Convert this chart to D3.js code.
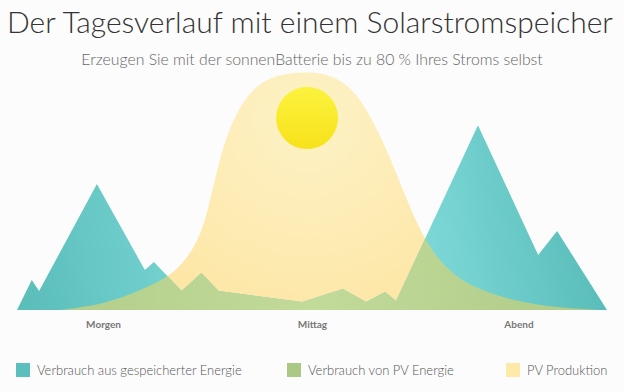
<!DOCTYPE html>
<html>
<head>
<meta charset="utf-8">
<script src="https://cdn.jsdelivr.net/npm/d3@7"></script>
<style>
  body { margin: 0; background: #fcfcfc; }
  svg { display: block; font-family: Lato, "Open Sans", sans-serif; }
</style>
</head>
<body>
<svg id="chart" width="624" height="392"></svg>
<script>
// hours of the day (0..24) and relative power (0..100)
const consumptionHours = [0, 0.6, 0.9, 3.25, 5.2, 5.57, 6.7, 7.5, 8.2, 11.6, 13.26, 14.2, 14.97, 15.42, 18.75, 21.2, 21.97, 24];
const consumptionValues = [0, 12.5, 7.9, 52.5, 16.7, 20, 7.9, 15.4, 7.9, 3.3, 8.75, 3.3, 7.5, 3.75, 77, 22.9, 32.9, 0];

const pvHours = [1.75, 3.38, 4.72, 6.1, 6.83, 7.44, 7.77, 8.18, 8.66, 9.48, 10.5, 11.72, 12.94, 13.95, 14.77, 15.38, 15.91, 16.52, 17.21, 18.02, 18.96, 20.26, 21.68, 23.72];
const pvValues = [0, 2.1, 6.7, 13.3, 20, 30.4, 41.7, 60.4, 77, 92, 98, 99.5, 98, 89, 73, 58.3, 44.6, 30.4, 20, 12.5, 7.9, 3.75, 1.25, 0];

const tickHours = [3.5, 12, 20.4];
const tickLabels = ["Morgen", "Mittag", "Abend"];

const legendLabels = ["Verbrauch aus gespeicherter Energie", "Verbrauch von PV Energie", "PV Produktion"];
const legendColors = ["#5bc0bd", "#abc985", "#fde9a8"];

const sunHour = 11.8;
const sunValue = 80;

const svg = d3.select("#chart");
const width = 624;

const x = d3.scaleLinear().domain([0, 24]).range([17, 607]);
const y = d3.scaleLinear().domain([0, 100]).range([310, 70]);

const consumption = consumptionHours.map((h, i) => ({h: h, v: consumptionValues[i]}));
const pv = pvHours.map((h, i) => ({h: h, v: pvValues[i]}));

// title
svg.append("text")
    .attr("x", width / 2 - 2)
    .attr("y", 33)
    .attr("text-anchor", "middle")
    .style("font-size", "30px")
    .style("font-weight", "300")
    .style("fill", "#333")
    .text("Der Tagesverlauf mit einem Solarstromspeicher");

svg.append("text")
    .attr("x", width / 2)
    .attr("y", 65)
    .attr("text-anchor", "middle")
    .style("font-size", "15.8px")
    .style("font-weight", "300")
    .style("fill", "#666")
    .text("Erzeugen Sie mit der sonnenBatterie bis zu 80 % Ihres Stroms selbst");

const defs = svg.append("defs");

const tealGrad = defs.append("linearGradient")
    .attr("id", "teal-grad")
    .attr("gradientUnits", "userSpaceOnUse")
    .attr("x1", 17).attr("y1", 300).attr("x2", 607).attr("y2", 200);
tealGrad.append("stop").attr("offset", "0%").attr("stop-color", "#59bdba");
tealGrad.append("stop").attr("offset", "25%").attr("stop-color", "#72d0cd");
tealGrad.append("stop").attr("offset", "70%").attr("stop-color", "#7bd7d5");
tealGrad.append("stop").attr("offset", "100%").attr("stop-color", "#55bab6");

const greenGrad = defs.append("linearGradient")
    .attr("id", "green-grad")
    .attr("gradientUnits", "userSpaceOnUse")
    .attr("x1", 17).attr("y1", 0).attr("x2", 607).attr("y2", 0);
greenGrad.append("stop").attr("offset", "0%").attr("stop-color", "#b0cc88");
greenGrad.append("stop").attr("offset", "50%").attr("stop-color", "#c2da9a");
greenGrad.append("stop").attr("offset", "100%").attr("stop-color", "#aecb87");

const pvGrad = defs.append("radialGradient")
    .attr("id", "pv-grad")
    .attr("gradientUnits", "userSpaceOnUse")
    .attr("cx", x(sunHour)).attr("cy", y(sunValue)).attr("r", 220);
pvGrad.append("stop").attr("offset", "0%").attr("stop-color", "#fdf2c6");
pvGrad.append("stop").attr("offset", "100%").attr("stop-color", "#fde6a4");

const sunGrad = defs.append("linearGradient")
    .attr("id", "sun-grad")
    .attr("x1", 0).attr("y1", 0).attr("x2", 0).attr("y2", 1);
sunGrad.append("stop").attr("offset", "0%").attr("stop-color", "#fcf23e");
sunGrad.append("stop").attr("offset", "100%").attr("stop-color", "#f7e21a");

const pvArea = d3.area()
    .x(d => x(d.h))
    .y0(y(0))
    .y1(d => y(d.v))
    .curve(d3.curveBasis);

const consArea = d3.area()
    .x(d => x(d.h))
    .y0(y(0))
    .y1(d => y(d.v));

defs.append("clipPath")
    .attr("id", "pv-clip")
    .append("path")
    .attr("d", pvArea(pv));

// PV production
svg.append("path")
    .attr("d", pvArea(pv))
    .style("fill", "url(#pv-grad)");

// consumption from storage
svg.append("path")
    .attr("d", consArea(consumption))
    .style("fill", "url(#teal-grad)");

// consumption covered by PV
svg.append("path")
    .attr("d", consArea(consumption))
    .attr("clip-path", "url(#pv-clip)")
    .style("fill", "url(#green-grad)");

// sun
svg.append("circle")
    .attr("cx", x(sunHour))
    .attr("cy", y(sunValue))
    .attr("r", 31)
    .style("fill", "url(#sun-grad)");

// x axis labels
const axis = svg.append("g")
    .attr("transform", "translate(0," + y(0) + ")")
    .call(d3.axisBottom(x).tickValues(tickHours).tickSize(0).tickPadding(11)
        .tickFormat((d, i) => tickLabels[i]));
axis.select(".domain").remove();
axis.selectAll("text")
    .style("font-family", "Lato, sans-serif")
    .style("font-size", "10px")
    .style("font-weight", "bold")
    .style("fill", "#777");

// legend
const legendX = [16, 287, 506];
const legend = svg.append("g")
    .selectAll("g")
    .data(legendLabels)
    .enter()
    .append("g")
    .attr("transform", (d, i) => "translate(" + legendX[i] + ",363)");

legend.append("rect")
    .attr("width", 14)
    .attr("height", 14)
    .style("fill", (d, i) => legendColors[i]);

legend.append("text")
    .attr("x", 21)
    .attr("y", 12)
    .style("font-size", "13px")
    .style("font-weight", "300")
    .style("fill", "#555")
    .text(d => d);
</script>
</body>
</html>
